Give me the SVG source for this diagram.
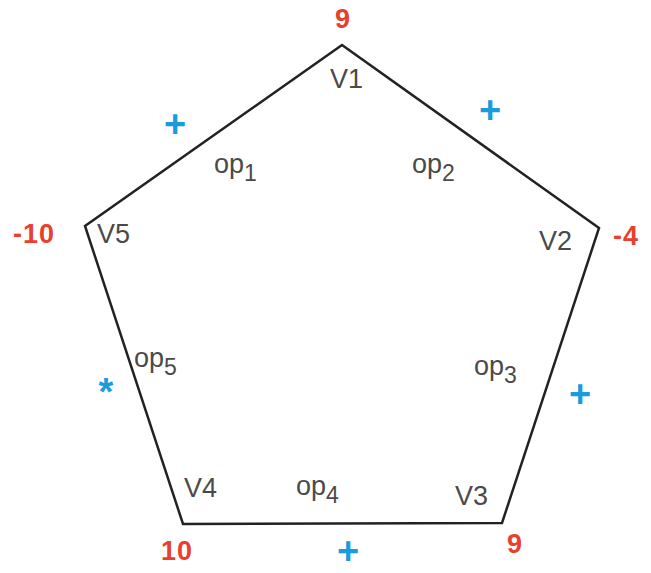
<svg xmlns="http://www.w3.org/2000/svg" width="651" height="573" viewBox="0 0 651 573">
<style>
.edge{fill:none;stroke:#222;stroke-width:2.5;stroke-linejoin:miter}
.lbl{font-family:"Liberation Sans",Arial,sans-serif;font-size:27px;fill:#4a4a4a}
.sub{font-size:23px}
.val{font-family:"Liberation Sans",Arial,sans-serif;font-size:27px;font-weight:bold;fill:#e8402c;letter-spacing:1px}
.op{font-family:"Liberation Sans",Arial,sans-serif;font-size:38px;font-weight:bold;fill:#1a9be0;text-anchor:middle}
</style>
<rect width="651" height="573" fill="#fff"/>
<g id="connectors">
<polygon class="edge" points="342,45 599,228 502,523 183,524 85,226"/>
</g>
<g id="V1">
<text class="val" x="343" y="28" text-anchor="middle">9</text>
<text class="lbl" x="330" y="88">V1</text>
</g>
<g id="V2">
<text class="lbl" x="539" y="250">V2</text>
<text class="val" x="613" y="245">-4</text>
</g>
<g id="V3">
<text class="lbl" x="455" y="505">V3</text>
<text class="val" x="515" y="553" text-anchor="middle">9</text>
</g>
<g id="V4">
<text class="lbl" x="184" y="497">V4</text>
<text class="val" x="161" y="560">10</text>
</g>
<g id="V5">
<text class="lbl" x="97" y="243">V5</text>
<text class="val" x="13" y="243">-10</text>
</g>
<g id="op1">
<text class="lbl" x="214" y="173">op<tspan class="sub" dy="8">1</tspan></text>
<text class="op" x="175" y="137">+</text>
</g>
<g id="op2">
<text class="lbl" x="412" y="173">op<tspan class="sub" dy="8">2</tspan></text>
<text class="op" x="490" y="123">+</text>
</g>
<g id="op3">
<text class="lbl" x="474" y="375">op<tspan class="sub" dy="8">3</tspan></text>
<text class="op" x="580" y="407">+</text>
</g>
<g id="op4">
<text class="lbl" x="296" y="495">op<tspan class="sub" dy="8">4</tspan></text>
<text class="op" x="348" y="564">+</text>
</g>
<g id="op5">
<text class="lbl" x="134" y="367">op<tspan class="sub" dy="8">5</tspan></text>
<text class="op" x="106" y="405" font-weight="normal">*</text>
</g>
</svg>
